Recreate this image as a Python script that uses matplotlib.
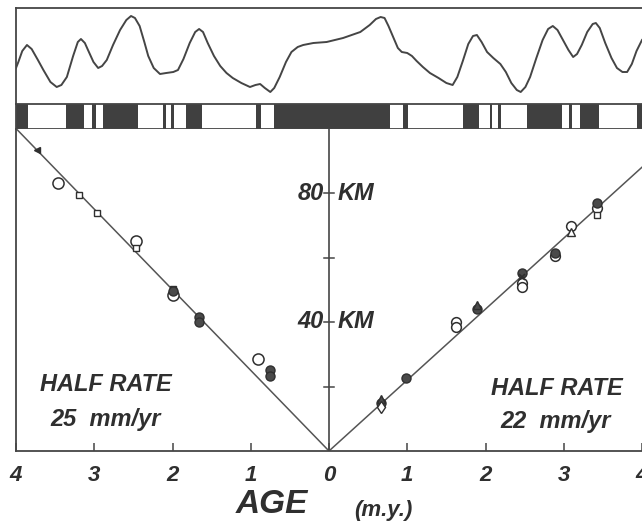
import matplotlib
matplotlib.use('Agg')
import matplotlib.pyplot as plt
from matplotlib.ticker import FuncFormatter

# magnetic anomaly profile (x in m.y., left side negative), relative amplitude
anom_x = [-4.00, -3.97, -3.92, -3.86, -3.80, -3.72, -3.65, -3.56, -3.48, -3.42,
          -3.35, -3.27, -3.21, -3.17, -3.12, -3.08, -3.01, -2.95, -2.90, -2.84,
          -2.76, -2.67, -2.59, -2.53, -2.48, -2.42, -2.36, -2.31, -2.24, -2.16,
          -2.08, -1.99, -1.93, -1.86, -1.78, -1.71, -1.66, -1.61, -1.55, -1.47,
          -1.39, -1.31, -1.23, -1.12, -1.01, -0.94, -0.88, -0.82, -0.75, -0.70,
          -0.63, -0.55, -0.48, -0.40, -0.33, -0.20, -0.03, 0.18, 0.40, 0.52,
          0.60, 0.66, 0.71, 0.76, 0.82, 0.88, 0.93, 1.00, 1.06, 1.12,
          1.20, 1.29, 1.40, 1.50, 1.58, 1.64, 1.71, 1.78, 1.84, 1.89,
          1.95, 2.02, 2.10, 2.19, 2.26, 2.33, 2.40, 2.45, 2.51, 2.57,
          2.65, 2.73, 2.80, 2.86, 2.92, 2.99, 3.06, 3.12, 3.17, 3.23,
          3.30, 3.37, 3.41, 3.46, 3.53, 3.61, 3.68, 3.75, 3.81, 3.87,
          3.93, 4.00]
anom_y = [-12, -6, 5, 11, 7, -4, -14, -26, -31, -29,
          -21, 0, 14, 17, 13, 6, -6, -12, -10, -4,
          11, 26, 36, 40, 38, 30, 14, 0, -12, -18,
          -17, -16, -14, -3, 13, 24, 27, 24, 13, 0,
          -10, -17, -22, -27, -31, -29, -28, -32, -36, -32,
          -21, -6, 4, 9, 11, 13, 14, 18, 24, 31,
          37, 39, 38, 30, 19, 8, 4, 3, 0, -5,
          -11, -17, -22, -27, -29, -21, -5, 12, 20, 21,
          14, 4, -2, -8, -16, -27, -34, -36, -31, -21,
          -2, 16, 27, 30, 26, 16, 6, -1, 2, 11,
          24, 32, 33, 28, 13, -2, -12, -16, -16, -8,
          5, 16]

# normal polarity blocks (start, end)
normal_start = [-4.0, -3.36, -3.03, -2.89, -2.12, -2.02, -1.83, -0.93, -0.70, 0.95,
                1.71, 2.06, 2.16, 2.53, 3.07, 3.21, 3.94]
normal_end = [-3.85, -3.13, -2.98, -2.44, -2.08, -1.98, -1.62, -0.87, 0.78, 1.01,
              1.92, 2.08, 2.20, 2.98, 3.10, 3.45, 4.0]

# left flank (age m.y., distance km)
left_open_age = [3.46, 2.47, 2.00, 0.91]
left_open_km = [83.2, 65.1, 48.4, 28.4]
left_sq_age = [3.19, 2.96, 2.47, 2.00]
left_sq_km = [79.4, 73.7, 62.9, 50.2]
left_fill_age = [2.00, 1.66, 1.66, 0.76, 0.76]
left_fill_km = [49.5, 41.6, 40.1, 25.1, 23.3]
left_tri_age = [3.73]
left_tri_km = [93.3]

# right flank
right_fill_age = [0.66, 0.99, 1.89, 2.47, 2.89, 3.43]
right_fill_km = [14.9, 22.5, 43.9, 55.1, 61.3, 76.8]
right_open_age = [1.62, 1.62, 2.47, 2.47, 2.89, 3.09, 3.43]
right_open_km = [40.1, 38.5, 52.1, 50.9, 60.6, 69.8, 75.3]
right_tri_age = [0.66, 1.89]
right_tri_km = [16.0, 45.3]
right_dia_age = [0.66]
right_dia_km = [13.7]
right_otri_age = [3.09]
right_otri_km = [68.0]
right_osq_age = [3.43]
right_osq_km = [73.2]
right_x_age = [2.47]
right_x_km = [54.0]

left_rate = 25   # mm/yr = km/m.y.
right_rate = 22

INK = '#2f2f2f'
DARK = '#454545'
FONT = dict(family='Liberation Sans', weight='bold', style='italic', color=INK)

fig = plt.figure(figsize=(6.42, 5.21), dpi=100)
W, H = 642.0, 521.0
x0 = 16 / W
wd = 626 / W

# anomaly panel
ax_a = fig.add_axes([x0, 1 - 104 / H, wd, 96 / H])
ax_a.plot(anom_x, anom_y, color=DARK, lw=1.4, solid_joinstyle='round')
ax_a.set_xlim(-4, 4)
ax_a.set_ylim(-48, 48)
ax_a.set_xticks([])
ax_a.set_yticks([])
for s in ['left', 'top']:
    ax_a.spines[s].set_color(DARK)
    ax_a.spines[s].set_linewidth(1.3)
ax_a.spines['right'].set_visible(False)
ax_a.spines['bottom'].set_visible(False)

# polarity bar
ax_b = fig.add_axes([x0, 1 - 129 / H, wd, 25 / H])
for s, e in zip(normal_start, normal_end):
    ax_b.axvspan(s, e, color='#404040', lw=0)
ax_b.set_xlim(-4, 4)
ax_b.set_ylim(0, 1)
ax_b.set_xticks([])
ax_b.set_yticks([])
for s in ['left', 'top', 'bottom']:
    ax_b.spines[s].set_color(DARK)
    ax_b.spines[s].set_linewidth(1.3)
ax_b.spines['right'].set_visible(False)

# distance vs age
ax = fig.add_axes([x0, 1 - 451 / H, wd, 322.5 / H])
ax.set_xlim(-4, 4)
ax.set_ylim(0, 100)
ax.plot([-4, 0], [left_rate * 4, 0], color='#555555', lw=1.1)
ax.plot([0, 4], [0, right_rate * 4], color='#555555', lw=1.1)
ax.axvline(0, color=DARK, lw=1.2)
for k in [20, 40, 60, 80]:
    ax.plot([-0.06, 0.06], [k, k], color=DARK, lw=1.1)

neg = lambda a: [-v for v in a]
mk = dict(color=INK, linestyle='none')
ax.plot(neg(left_open_age), left_open_km, 'o', ms=8, mfc='white', mec=INK, mew=1.1, **mk)
ax.plot(neg(left_sq_age), left_sq_km, 's', ms=4.5, mfc='white', mec=INK, mew=1.0, **mk)
ax.plot(neg(left_fill_age), left_fill_km, 'o', ms=6.5, mfc='#4a4a4a', mec=INK, **mk)
ax.plot(neg(left_tri_age), left_tri_km, '<', ms=4, mfc=INK, mec=INK, **mk)

ax.plot(right_open_age, right_open_km, 'o', ms=7, mfc='white', mec=INK, mew=1.1, **mk)
ax.plot(right_fill_age, right_fill_km, 'o', ms=6.5, mfc='#4a4a4a', mec=INK, **mk)
ax.plot(right_tri_age, right_tri_km, '^', ms=6, mfc='#4a4a4a', mec=INK, **mk)
ax.plot(right_dia_age, right_dia_km, 'd', ms=6, mfc='white', mec=INK, mew=1.0, **mk)
ax.plot(right_otri_age, right_otri_km, '^', ms=5.5, mfc='white', mec=INK, mew=1.0, **mk)
ax.plot(right_osq_age, right_osq_km, 's', ms=4.5, mfc='white', mec=INK, mew=1.0, **mk)
ax.plot(right_x_age, right_x_km, 'x', ms=5, mec=INK, mew=1.2, **mk)

ax.set_xticks([-4, -3, -2, -1, 0, 1, 2, 3, 4])
ax.xaxis.set_major_formatter(FuncFormatter(lambda v, p: f'{abs(v):.0f}'))
ax.tick_params(axis='x', direction='in', length=6, width=1.1, color=DARK, pad=10,
               labelsize=16, labelcolor=INK)
for lab in ax.get_xticklabels():
    lab.set_fontfamily('Liberation Sans')
    lab.set_fontweight('bold')
    lab.set_fontstyle('italic')
ax.set_yticks([])
ax.spines['right'].set_visible(False)
ax.spines['top'].set_visible(False)
for s in ['left', 'bottom']:
    ax.spines[s].set_color(DARK)
    ax.spines[s].set_linewidth(1.3)

for k in [80, 40]:
    ax.text(-0.07, k, str(k), ha='right', va='center', fontsize=17, **FONT)
    ax.text(0.11, k, 'KM', ha='left', va='center', fontsize=17, **FONT)

ax.text(-2.85, 20.5, 'HALF RATE', ha='center', va='center', fontsize=17, **FONT)
ax.text(-2.85, 9.9, f'{left_rate}  mm/yr', ha='center', va='center', fontsize=17, **FONT)
ax.text(2.91, 19.5, 'HALF RATE', ha='center', va='center', fontsize=17, **FONT)
ax.text(2.89, 9.0, f'{right_rate}  mm/yr', ha='center', va='center', fontsize=17, **FONT)

fig.text(272 / W, 1 - 520 / H, 'AGE', ha='center', va='bottom', fontsize=24, **FONT)
fig.text(383 / W, 1 - 516 / H, '(m.y.)', ha='center', va='baseline', fontsize=16, **FONT)

fig.savefig('out.png', dpi=100, facecolor='white')
